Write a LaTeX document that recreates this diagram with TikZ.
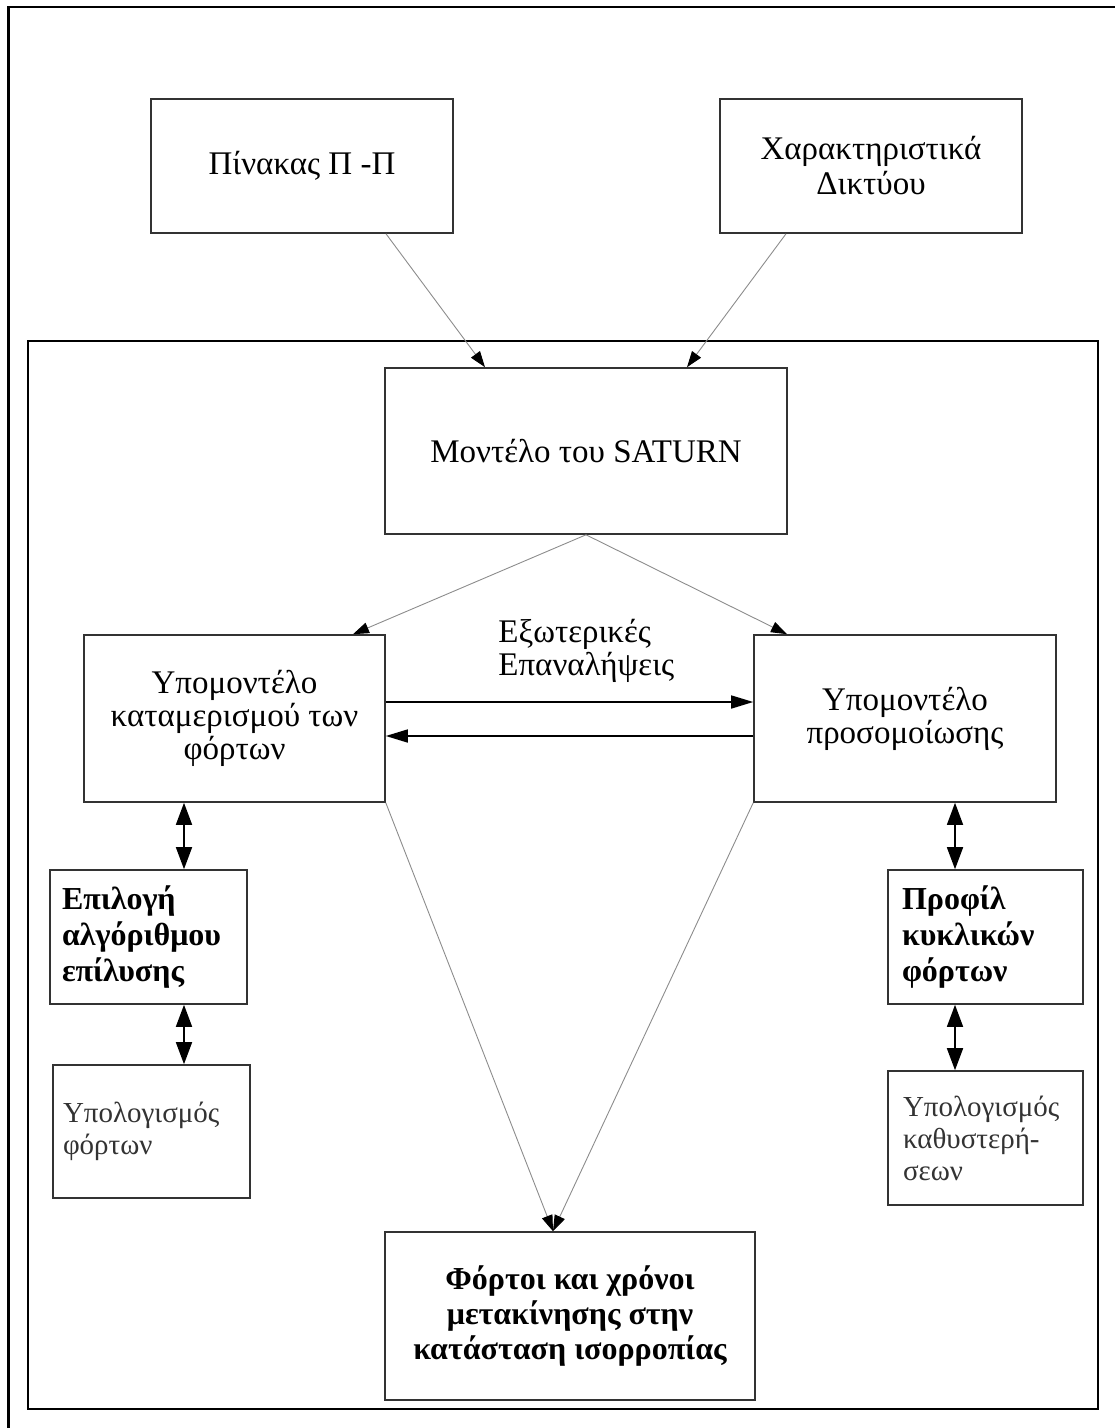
\documentclass[tikz,border=0pt]{standalone}
\usepackage{fontspec}
\setmainfont{Liberation Serif}
\usetikzlibrary{arrows.meta}

\begin{document}
\begin{tikzpicture}[x=0.5pt,y=-0.5pt]
	\tikzstyle{box}=[rectangle,draw=black!80,line width=0.8pt,align=center,inner sep=0pt,font=\fontsize{16.5}{17.5}\selectfont]
	\tikzstyle{lbox}=[box,align=left,font=\fontsize{16}{18}\selectfont\bfseries]
	\tikzstyle{sbox}=[box,align=left,text=black!80,font=\fontsize{14.5}{16}\selectfont]
	\tikzstyle{feed}=[draw=black!45,line width=0.45pt,-{Triangle[length=8pt,width=5.5pt,black]}]
	\tikzstyle{flow}=[draw=black,line width=0.8pt,-{Triangle[length=11pt,width=6.5pt]}]
	\tikzstyle{both}=[draw=black,line width=0.8pt,{Triangle[length=11pt,width=8pt]}-{Triangle[length=11pt,width=8pt]}]
	\useasboundingbox (0,0) rectangle (1114,1428);
	% frames
	\draw[line width=1.3pt] (8.5,1440) -- (8.5,7) -- (1120,7);
	\draw[line width=0.75pt] (28,341) rectangle (1098,1409);
	% boxes
	\node[box,minimum width=151pt,minimum height=67pt] (pp) at (302,166) {Πίνακας Π -Π};
	\node[box,minimum width=151pt,minimum height=67pt] (net) at (871,166) {Χαρακτηριστικά\\Δικτύου};
	\node[box,minimum width=201pt,minimum height=83pt] (saturn) at (586,451) {Μοντέλο του SATURN};
	\node[box,minimum width=150.5pt,minimum height=83.5pt,font=\fontsize{16.5}{16.5}\selectfont] (assign) at (234.5,718.5) {Υπομοντέλο\\καταμερισμού των\\φόρτων};
	\node[box,minimum width=151pt,minimum height=83.5pt,font=\fontsize{16.5}{16.5}\selectfont] (sim) at (905,718.5) {Υπομοντέλο\\προσομοίωσης};
	\node[lbox,text width=86.5pt,minimum height=67pt,inner xsep=6pt] (algo) at (148.5,937) {Επιλογή\\αλγόριθμου\\επίλυσης};
	\node[sbox,text width=88.5pt,minimum height=66.5pt,inner xsep=5pt] (loads) at (151.5,1131.5) {Υπολογισμός\\φόρτων};
	\node[lbox,text width=83.5pt,minimum height=67pt,inner xsep=7pt] (profile) at (985.5,937) {Προφίλ\\κυκλικών\\φόρτων};
	\node[sbox,text width=82.5pt,minimum height=67pt,inner xsep=7.5pt] (delay) at (985.5,1138) {Υπολογισμός\\καθυστερή-\\σεων};
	\node[box,minimum width=185pt,minimum height=84pt,font=\fontsize{16}{17.5}\selectfont\bfseries] (eq) at (570,1316) {Φόρτοι και χρόνοι\\μετακίνησης στην\\κατάσταση ισορροπίας};
	\node[align=left,anchor=west,inner sep=0pt,font=\fontsize{16.5}{16.5}\selectfont] (outer) at (498,651) {Εξωτερικές\\Επαναλήψεις};
	% connectors
	\draw[feed] ([xshift=42pt]pp.south) -- ([xshift=-50.5pt]saturn.north);
	\draw[feed] ([xshift=-42.5pt]net.south) -- ([xshift=50.5pt]saturn.north);
	\draw[feed] (saturn.south) -- ([xshift=59.25pt]assign.north);
	\draw[feed] (saturn.south) -- ([xshift=-59pt]sim.north);
	\coordinate (meet) at ([xshift=-8.5pt]eq.north);
	\draw[feed] (assign.south east) -- (meet);
	\draw[feed] (sim.south west) -- (meet);
	\draw[flow] ([yshift=8.25pt]assign.east) -- ([yshift=8.25pt]assign.east -| sim.west);
	\draw[flow] ([yshift=-8.75pt]sim.west) -- ([yshift=-8.75pt]sim.west -| assign.east);
	\draw[both] ([xshift=17.75pt]algo.north |- assign.south) -- ([xshift=17.75pt]algo.north);
	\draw[both] ([xshift=17.75pt]algo.south) -- ([xshift=17.75pt]algo.south |- loads.north);
	\draw[both] ([xshift=-15.25pt]profile.north |- sim.south) -- ([xshift=-15.25pt]profile.north);
	\draw[both] ([xshift=-15.25pt]profile.south) -- ([xshift=-15.25pt]profile.south |- delay.north);
\end{tikzpicture}
\end{document}
